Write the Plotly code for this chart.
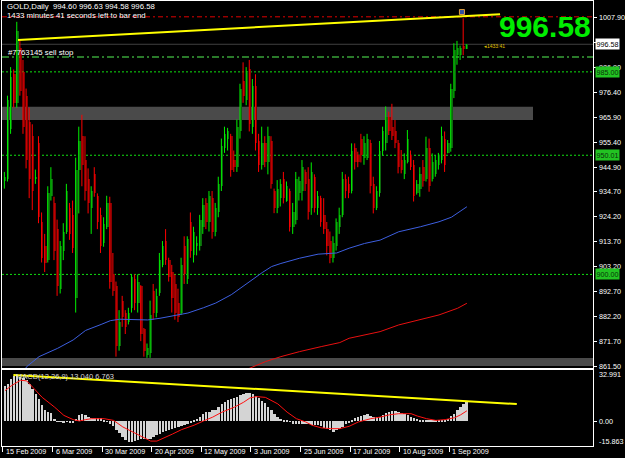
import plotly.graph_objects as go

W, H = 625, 458

# ---------------- data ----------------
date_labels = ["15 Feb 2009", "6 Mar 2009", "30 Mar 2009", "20 Apr 2009", "12 May 2009",
               "3 Jun 2009", "25 Jun 2009", "17 Jul 2009", "10 Aug 2009", "1 Sep 2009"]
date_label_bars = [0, 16, 32, 48, 64, 80, 96, 112, 128, 144]

opens = [939, 940, 961, 984, 972, 995, 985, 975, 964, 958,
         940, 955, 922, 912, 906, 933, 930, 919, 894, 910,
         918, 928, 925, 890, 944, 958, 948, 940, 928, 942,
         933, 925, 913, 920, 930, 900, 895, 870, 889, 884,
         880, 886, 898, 888, 895, 877, 866, 867, 893, 884,
         892, 904, 914, 906, 901, 896, 888, 884, 912, 898,
         922, 908, 912, 912, 920, 930, 922, 932, 918, 926,
         937, 953, 957, 958, 948, 945, 960, 981, 973, 986,
         962, 979, 956, 946, 955, 947, 956, 935, 928, 932,
         940, 931, 935, 920, 923, 934, 935, 943, 940, 928,
         941, 928, 932, 925, 919, 914, 907, 912, 920, 925,
         940, 938, 935, 953, 950, 957, 949, 949, 955, 938,
         928, 934, 952, 955, 966, 962, 960, 955, 948, 942,
         947, 950, 946, 934, 936, 945, 940, 953, 940, 942,
         946, 948, 957, 951, 953, 977, 992, 992, 996, 994.60]
highs = [943, 975, 987, 986, 1006, 998, 990, 978, 970, 963,
         944, 958, 926, 917, 937, 945, 932.6, 923, 914, 921.5,
         938, 930, 931, 949, 962, 967, 958, 944.5, 937, 945,
         934, 928, 924, 933, 932.6, 909, 897, 885, 891, 885,
         886, 900, 900, 900, 895.5, 877.5, 871, 889, 896, 894,
         909, 914, 919, 907, 904, 900, 894, 907, 916, 916,
         926, 920, 916, 925, 932, 932, 935, 935, 930, 941,
         957, 962, 961.5, 959, 952, 965, 980, 989, 987, 990,
         982, 984, 959, 962, 958, 962, 958, 936, 939.6, 940,
         943, 939, 936, 930, 943, 941, 948, 944, 945, 947,
         942, 935, 933, 932, 922, 918, 916, 923.5, 928, 943,
         942, 941, 955, 955, 951.5, 959, 958, 959, 956.5, 941,
         937, 956, 962, 970.5, 968.3, 971.6, 964.8, 956.4, 952.2, 950.8,
         960.6, 952, 948, 939.6, 945, 948, 957.8, 957, 950.8, 950,
         951, 962, 960, 956.4, 980, 997, 998, 996, 1007.5, 996.63]
lows = [936, 939, 959, 970, 970, 975, 959, 944.5, 932, 927,
        938, 921.5, 905, 901, 905, 931, 906, 891, 892, 906,
        917, 914.5, 909, 884, 925.6, 937, 931, 925.6, 917, 932.6,
        919, 909, 911.6, 919, 894, 891, 865.5, 868, 878, 875,
        879, 884, 885, 884, 872, 865.5, 865, 865, 881, 882,
        891, 903, 904, 897, 884, 881, 880, 883, 896, 896,
        907, 905, 908, 910, 917, 919, 918, 915, 916, 924,
        935, 951, 952, 941, 943, 943, 957, 972, 971, 960,
        959, 952, 943, 944, 945, 942, 936, 925.7, 925.7, 928.5,
        929.8, 930.5, 918, 917, 921, 931, 931, 935, 923, 925,
        926, 925, 920, 917, 908, 904.7, 905, 910, 917, 924,
        932, 932, 934, 944, 945, 947, 946, 948, 934, 925.6,
        927, 932.6, 950, 952, 958.5, 956.4, 953, 942.4, 942.4, 940,
        946.6, 943.8, 930.6, 933.5, 932.6, 936.8, 939, 934.7, 939, 941,
        944, 946.6, 943, 950.8, 951.5, 974, 988, 990, 992, 994.58]
closes = [941, 973, 983, 972, 1002, 977, 962, 948, 940, 935,
          941, 924, 907, 905, 934, 940, 910, 895, 912, 918,
          935, 917, 911, 944, 956, 946, 935, 930, 935, 934,
          922, 912, 921, 930, 897, 893, 870, 880, 882, 878,
          884, 899, 888, 897, 875, 868, 869, 883, 884, 891,
          906, 912, 906, 899, 890, 884, 882, 904, 900, 915,
          910, 918, 913, 923, 929, 922, 933, 918, 928, 938,
          954, 959, 960, 944, 945, 962, 978, 975, 985, 963,
          979, 955, 946, 955, 947, 958, 938, 928, 936, 938,
          932, 937, 920, 926, 940, 939, 945, 938, 926, 943,
          928, 933, 922, 919, 912, 907, 913, 922, 925, 940,
          935, 934, 952, 947, 947, 950, 955, 957, 937, 928,
          935, 952, 960, 966, 960, 958, 955, 945, 944, 948,
          957, 945, 933, 938, 942, 939, 953, 937, 947, 948,
          950, 958, 946, 955, 978, 994, 995, 995, 994.6, 996.58]

macd_hist = [22.4, 23.9, 27.1, 29.2, 29.4, 28.6, 27.7, 26.4, 23.9, 20.7,
             17.6, 14.4, 10.2, 7.0, 5.9, 5.5, 1.7, 0.2, -0.4, -0.6,
             -0.4, -0.8, -1.1, 1.7, 3.8, 4.4, 3.8, 2.7, 2.3, 2.3,
             2.3, 1.9, 1.1, 0.2, -1.5, -3.2, -5.7, -7.8, -9.9, -12.1,
             -13.1, -13.3, -12.9, -12.1, -11.6, -11.2, -11.6, -11.2, -9.9, -9.1,
             -8.2, -7.0, -6.3, -5.7, -5.1, -4.2, -3.6, -3.0, -2.1, -1.5,
             -0.6, 0.6, 1.5, 2.7, 4.4, 5.7, 6.3, 7.0, 7.4, 9.1,
             11.2, 12.7, 13.7, 14.4, 15.0, 15.9, 16.7, 17.6, 18.2, 18.2,
             17.6, 16.5, 15.0, 13.3, 11.6, 9.5, 7.0, 4.4, 2.7, 1.5,
             1.1, 0.6, -0.4, -1.5, -1.5, -1.9, -1.5, -1.5, -1.7, -2.1,
             -2.1, -2.5, -3.2, -4.0, -5.1, -5.7, -6.6, -5.7, -4.7, -3.6,
             -1.9, -0.6, 1.1, 1.9, 2.7, 3.4, 4.0, 4.7, 3.6, 2.7,
             2.7, 3.0, 4.0, 5.5, 6.3, 6.8, 6.6, 5.9, 5.1, 4.4,
             3.8, 3.0, 2.1, 1.3, 0.8, 0.6, 0.8, 0.6, 0.6, 0.6,
             0.8, 1.1, 1.1, 1.5, 3.2, 4.9, 7.0, 9.5, 11.2, 13.04]

signal_bars = [0, 2, 5, 7, 9, 12, 16, 19, 22, 24, 26, 28, 32, 35, 38, 41, 45, 47, 49, 51,
               54, 57, 61, 64, 67, 70, 74, 77, 79, 81, 84, 88, 91, 94, 97, 99, 102, 105,
               108, 111, 114, 118, 121, 124, 127, 131, 133, 136, 139, 142, 145, 147, 149]
signal_vals = [19.7, 22.8, 26.4, 26.0, 21.8, 15.4, 9.1, 3.8, 1.1, 0.2, 1.1, 1.7, 1.7, 0.6,
               -3.6, -6.8, -11.0, -12.7, -12.7, -11.0, -8.2, -5.3, -2.5, 0.2, 2.7, 5.9,
               9.1, 12.3, 15.0, 15.9, 15.4, 11.2, 5.9, 1.7, -0.4, -2.5, -4.2, -4.7, -4.7,
               -3.2, -0.4, 1.7, 2.7, 4.2, 4.9, 4.9, 3.4, 1.7, 0.6, 1.1, 2.3, 4.2, 6.763]

ma_blue_bars = [5, 7, 11, 17, 22, 26, 31, 34, 37, 42, 46, 50, 54, 59, 64, 68, 73, 77, 80, 83,
                86, 89, 95, 101, 107, 111, 116, 121, 127, 134, 140, 144, 147, 149]
ma_blue_vals = [857, 861.3, 865.5, 869.0, 872.5, 876.5, 879, 880.6, 881.2, 881.0, 880.9,
                881.6, 882.5, 883.8, 886, 888, 891.5, 895, 898, 900.8, 903.3, 904.6, 906.8,
                908.5, 909, 911, 913, 914.4, 917.9, 920, 922.1, 924, 926.5, 928.4]
ma_red_bars = [75, 80, 84, 89, 95, 102, 108, 111, 116, 121, 127, 134, 140, 146, 149]
ma_red_vals = [858.5, 861.3, 863.4, 865.5, 867.6, 869.7, 871.4, 873.2, 874.6, 876,
               878.8, 880.9, 883, 885.8, 887.9]

price_ticks = [1007.90, 997.40, 986.90, 976.40, 965.90, 955.40, 944.90, 934.70,
               924.20, 913.70, 903.20, 892.70, 882.20, 871.70, 861.50]
# labels that stay readable (997.40 is fully hidden by the bid box in the reference)
price_tick_labels = [1007.90, 986.90, 976.40, 965.90, 955.40, 944.90, 934.70,
                     924.20, 913.70, 903.20, 892.70, 882.20, 871.70, 861.50]
level_lines = [985.00, 950.01, 900.00]
bid_price = 996.58
sell_stop_price = 991.2
stop_loss_price = 1008.1
order_marker_bar = [147.4]
order_marker_price = [1010.1]
zone_upper = [964.8, 970.4]
zone_lower = [861.6, 864.9]
trend_main_bars = [4.2, 159.7]
trend_main_vals = [998.4, 1009.2]
trend_macd_bars = [2.7, 165.1]
trend_macd_vals = [29.8, 11.1]

macd_max, macd_min = 32.991, -15.863

assert len(opens) == len(highs) == len(lows) == len(closes) == len(macd_hist) == 150

# ---------------- geometry ----------------
FONT = "Liberation Sans, Arial, sans-serif"
def px(x):
    return x / W
def py(y):
    return 1 - y / H

x_dom = [px(2), px(593)]
main_dom = [py(368), py(1)]
macd_dom = [py(446), py(370)]
# bar i sits at screen x = 5 + 3.1*i
x_range = [(2 - 5) / 3.1, (593 - 5) / 3.1]
y_range = [860.73, 1014.74]

fig = go.Figure()

n = len(closes)
up_i = [i for i in range(n) if closes[i] >= opens[i]]
dn_i = [i for i in range(n) if closes[i] < opens[i]]

def body_trace(idx, color):
    return go.Bar(
        x=[i + 0.12 for i in idx],
        base=[min(opens[i], closes[i]) for i in idx],
        y=[max(abs(closes[i] - opens[i]), 0.4) for i in idx],
        width=0.55, marker=dict(color=color, line=dict(width=0)),
        xaxis="x", yaxis="y", hoverinfo="skip")

def wick_trace(idx, color):
    xs, ys = [], []
    for i in idx:
        xs += [i - 0.2, i - 0.2, None]
        ys += [lows[i], highs[i], None]
    return go.Scatter(x=xs, y=ys, mode="lines", line=dict(color=color, width=1),
                      xaxis="x", yaxis="y", hoverinfo="skip")

fig.add_trace(body_trace(up_i, "#0c680c"))
fig.add_trace(body_trace(dn_i, "#8a0000"))
fig.add_trace(wick_trace(up_i, "#00f000"))
fig.add_trace(wick_trace(dn_i, "#ff0000"))

fig.add_trace(go.Scatter(x=ma_blue_bars, y=ma_blue_vals, mode="lines",
                         line=dict(color="#3d5fe0", width=1), xaxis="x", yaxis="y"))
fig.add_trace(go.Scatter(x=ma_red_bars, y=ma_red_vals, mode="lines",
                         line=dict(color="#e81010", width=1), xaxis="x", yaxis="y"))
fig.add_trace(go.Scatter(x=trend_main_bars, y=trend_main_vals, mode="lines",
                         line=dict(color="#ffff00", width=2), xaxis="x", yaxis="y"))
fig.add_trace(go.Scatter(x=order_marker_bar, y=order_marker_price, mode="markers",
                         marker=dict(symbol="square", size=5, color="#3050a0",
                                     line=dict(color="#e0a040", width=1)),
                         xaxis="x", yaxis="y", hoverinfo="skip"))

# MACD
fig.add_trace(go.Bar(x=list(range(n)), y=macd_hist, width=0.62,
                     marker=dict(color="#d4d4d4", line=dict(width=0)),
                     xaxis="x2", yaxis="y2", hoverinfo="skip"))
fig.add_trace(go.Scatter(x=signal_bars, y=signal_vals, mode="lines",
                         line=dict(color="#ff1010", width=1), xaxis="x2", yaxis="y2"))
fig.add_trace(go.Scatter(x=trend_macd_bars, y=trend_macd_vals, mode="lines",
                         line=dict(color="#ffff00", width=2), xaxis="x2", yaxis="y2"))

shapes = []
# zones
shapes.append(dict(type="rect", xref="x", yref="y", x0=x_range[0], x1=(533 - 5) / 3.1,
                   y0=zone_upper[0], y1=zone_upper[1], fillcolor="#4a4a4a",
                   line=dict(width=0), layer="below"))
shapes.append(dict(type="rect", xref="x", yref="y", x0=x_range[0], x1=x_range[1],
                   y0=zone_lower[0], y1=zone_lower[1], fillcolor="#4a4a4a",
                   line=dict(width=0), layer="below"))
for lv in level_lines:
    shapes.append(dict(type="line", xref="x domain", yref="y", x0=0, x1=1, y0=lv, y1=lv,
                       line=dict(color="#10e010", width=1, dash="2px,2px"), layer="below"))
shapes.append(dict(type="line", xref="x domain", yref="y", x0=0, x1=1, y0=bid_price, y1=bid_price,
                   line=dict(color="#404040", width=1), layer="below"))
shapes.append(dict(type="line", xref="x domain", yref="y", x0=0, x1=1,
                   y0=sell_stop_price, y1=sell_stop_price,
                   line=dict(color="#2a7a2a", width=2, dash="7px,3px,2px,3px"), layer="below"))
shapes.append(dict(type="line", xref="x domain", yref="y", x0=0, x1=1,
                   y0=stop_loss_price, y1=stop_loss_price,
                   line=dict(color="#e00000", width=1, dash="5px,3px,2px,3px"), layer="below"))

ann = []
def text(x, y, s, size=7.2, color="#ffffff", xanchor="left", yanchor="middle", **kw):
    d = dict(x=px(x), y=py(y), xref="paper", yref="paper", text=s, showarrow=False,
             xanchor=xanchor, yanchor=yanchor, font=dict(family=FONT, size=size, color=color))
    d.update(kw)
    ann.append(d)

text(5, 6, "GOLD,Daily  994.60 996.63 994.58 996.58", size=7.8)
text(5, 16, "1433 minutes 41 seconds left to bar end", size=7.8)
text(6, 52, "#7763145 sell stop", size=7.8)
text(14, 376, "MACD(12,26,9) 13.040 6.763", size=7.5, color="#d8d8d8")
text(497, 27, "<b>996.58</b>", size=30, color="#00ee00")
text(482, 46, "◂1433:41", size=5, color="#e0c000")

# price axis labels
for v in price_tick_labels:
    ann.append(dict(x=px(597), y=v, xref="paper", yref="y", text=f"{v:.2f}", showarrow=False,
                    xanchor="left", yanchor="middle",
                    font=dict(family=FONT, size=7.2, color="#ffffff")))
# boxes
ann.append(dict(x=px(594.5), y=bid_price, xref="paper", yref="y", text=f"{bid_price:.2f}",
                showarrow=False, xanchor="left", yanchor="middle", bgcolor="#ffffff",
                borderpad=0.5, font=dict(family=FONT, size=7.2, color="#000000")))
for lv in level_lines:
    ann.append(dict(x=px(594.5), y=lv, xref="paper", yref="y", text=f"{lv:.2f}",
                    showarrow=False, xanchor="left", yanchor="middle", bgcolor="#22c322",
                    borderpad=0.5, font=dict(family=FONT, size=7.2, color="#0a300a")))
# MACD labels
text(597, 374, f"{macd_max:.3f}")
ann.append(dict(x=px(597), y=0, xref="paper", yref="y2", text="0.00", showarrow=False,
                xanchor="left", yanchor="middle", font=dict(family=FONT, size=7.2, color="#ffffff")))
text(597, 441, f"{macd_min:.3f}")

# date labels
for b, s in zip(date_label_bars, date_labels):
    ann.append(dict(x=b - 0.3, y=py(451.5), xref="x2", yref="paper", text=s, showarrow=False,
                    xanchor="left", yanchor="middle",
                    font=dict(family=FONT, size=7.2, color="#ffffff")))

axis_common = dict(showgrid=False, zeroline=False, showline=True, mirror=True,
                   linecolor="#ffffff", linewidth=1)
fig.update_layout(
    width=W, height=H, margin=dict(l=0, r=0, t=0, b=0),
    paper_bgcolor="#000000", plot_bgcolor="#000000", showlegend=False,
    barmode="overlay", bargap=0,
    xaxis=dict(domain=x_dom, range=x_range, anchor="y", showticklabels=False, ticks="",
               **axis_common),
    yaxis=dict(domain=main_dom, range=y_range, anchor="x", side="right", showticklabels=False,
               tickvals=price_ticks, ticks="outside", ticklen=3, tickcolor="#ffffff",
               **axis_common),
    xaxis2=dict(domain=x_dom, range=x_range, anchor="y2", showticklabels=False,
                tickvals=[b - 0.7 for b in date_label_bars], ticks="outside", ticklen=5,
                tickcolor="#ffffff", **axis_common),
    yaxis2=dict(domain=macd_dom, range=[macd_min, macd_max], anchor="x2", side="right",
                showticklabels=False, tickvals=[0], ticks="outside", ticklen=3,
                tickcolor="#ffffff", **axis_common),
    shapes=shapes, annotations=ann,
)

fig.write_html("out.html")
